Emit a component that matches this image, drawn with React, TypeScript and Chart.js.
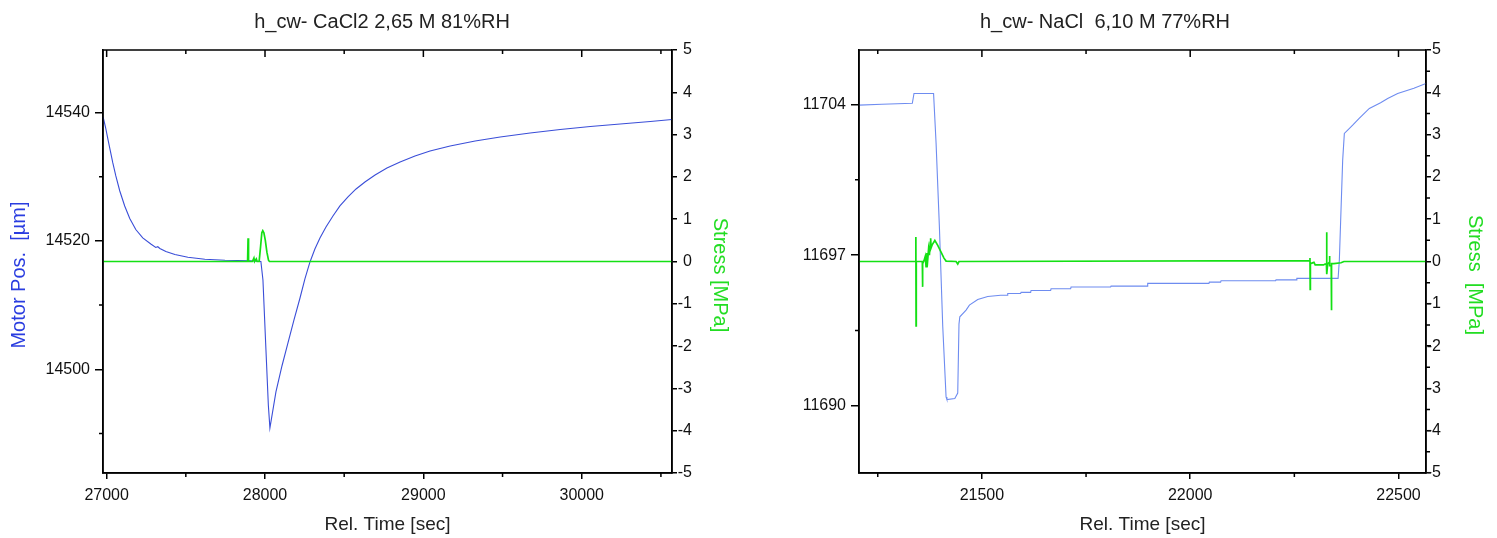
import React, { useEffect, useRef } from 'react';
import { Chart, registerables } from 'chart.js';

Chart.register(...registerables);

const FONT = '"Liberation Sans", Arial, Helvetica, sans-serif';
const GREEN = '#14e014';
const GREEN_LABEL = '#22dd22';
const BLUE_LABEL = '#2a3de0';

// ---------- Left chart: CaCl2 ----------
const leftTitle = 'h_cw- CaCl2 2,65 M 81%RH';
const leftMotorTime = [26978, 26994, 27007, 27020, 27039, 27058, 27083, 27114, 27146, 27184, 27228, 27279, 27310, 27323, 27336, 27374, 27431, 27513, 27620, 27747, 27905, 27974, 27987, 28006, 28021, 28031, 28069, 28107, 28145, 28183, 28221, 28252, 28284, 28315, 28347, 28385, 28429, 28473, 28524, 28575, 28631, 28695, 28770, 28853, 28947, 29042, 29169, 29327, 29485, 29674, 29864, 30054, 30243, 30433, 30572];
const leftMotorPos = [14539.3, 14537.61, 14535.98, 14534.42, 14532.16, 14530.13, 14527.79, 14525.46, 14523.51, 14521.79, 14520.47, 14519.53, 14518.99, 14519.1, 14518.83, 14518.36, 14517.9, 14517.46, 14517.16, 14516.99, 14516.91, 14516.8, 14513.92, 14503.0, 14494.44, 14490.85, 14496.46, 14500.51, 14504.1, 14507.69, 14511.11, 14514.08, 14516.73, 14518.75, 14520.47, 14522.18, 14523.9, 14525.46, 14526.86, 14528.11, 14529.2, 14530.29, 14531.38, 14532.31, 14533.25, 14534.03, 14534.81, 14535.59, 14536.21, 14536.84, 14537.38, 14537.85, 14538.24, 14538.63, 14538.94];
const leftStressTime = [26977, 27880, 27890, 27893, 27896, 27920, 27930, 27934, 27945, 27950, 27963, 27972, 27980, 27986, 27993, 28002, 28012, 28022, 28028, 30570];
const leftStress = [0, 0, 0, 0.55, 0.0, 0.0, 0.08, 0.0, 0.06, 0.0, 0.0, 0.35, 0.68, 0.73, 0.68, 0.5, 0.22, 0.03, 0, 0];
const leftXTicks = [27000, 28000, 29000, 30000];
const leftXMinor = [27500, 28500, 29500, 30500];
const leftYTicks = [14500, 14520, 14540];
const leftYMinor = [14490, 14510, 14530];

// ---------- Right chart: NaCl ----------
const rightTitle = 'h_cw- NaCl  6,10 M 77%RH';
const rightMotorTime = [21205, 21260, 21333, 21337, 21384, 21390, 21398, 21406, 21414, 21416, 21435, 21442, 21445, 21447, 21462, 21470, 21490, 21514, 21545, 21561, 21562, 21593, 21594, 21617, 21618, 21665, 21666, 21713, 21714, 21809, 21810, 21897, 21898, 22045, 22046, 22073, 22074, 22205, 22206, 22255, 22256, 22355, 22358, 22362, 22366, 22370, 22378, 22390, 22405, 22430, 22457, 22474, 22498, 22537, 22566];
const rightMotorPos = [11703.96, 11704.0, 11704.05, 11704.5, 11704.5, 11702.2, 11698.3, 11693.7, 11690.42, 11690.3, 11690.35, 11690.6, 11693.8, 11694.14, 11694.45, 11694.68, 11694.94, 11695.08, 11695.14, 11695.14, 11695.22, 11695.22, 11695.27, 11695.27, 11695.36, 11695.36, 11695.44, 11695.44, 11695.52, 11695.52, 11695.56, 11695.56, 11695.69, 11695.69, 11695.75, 11695.75, 11695.81, 11695.81, 11695.85, 11695.85, 11695.92, 11695.92, 11696.77, 11699.09, 11701.41, 11702.65, 11702.8, 11703.03, 11703.34, 11703.81, 11704.07, 11704.27, 11704.5, 11704.74, 11704.97];
const rightStressTime = [21205, 21341, 21341.5, 21342, 21342.5, 21357, 21357.5, 21358, 21361, 21364, 21366, 21368, 21370, 21372, 21374, 21376, 21377, 21378, 21381, 21387, 21394, 21402, 21409, 21414, 21438, 21442, 21445, 22287, 22287.5, 22288, 22288.5, 22297, 22300, 22320, 22324, 22327, 22327.5, 22328, 22330, 22334, 22334.5, 22335, 22338.5, 22339, 22339.5, 22345, 22362, 22369, 22566];
const rightStress = [0, 0, 0.58, -1.52, 0, 0, -0.6, -0.05, 0.02, 0.12, -0.12, 0.2, 0.05, 0.3, 0.15, 0.45, 0.55, 0.32, 0.4, 0.5, 0.38, 0.22, 0.08, 0.01, 0.0, -0.06, 0.0, 0.02, 0.08, -0.66, -0.05, -0.02, -0.08, -0.08, -0.06, -0.08, 0.69, -0.3, -0.05, -0.02, 0.13, -0.1, -0.1, -1.15, -0.05, -0.05, -0.03, 0.0, 0];
const rightXTicks = [21500, 22000, 22500];
const rightXMinor = [21250, 21750, 22250];
const rightYTicks = [11690, 11697, 11704];
const rightYMinor = [11693.5, 11700.5];

const stressTicks = [-5, -4, -3, -2, -1, 0, 1, 2, 3, 4, 5];
const stressMinorRight = [-4.5, -3.5, -2.5, -1.5, -0.5, 0.5, 1.5, 2.5, 3.5, 4.5];

type Spec = {
  canvasW: number;
  title: string;
  titleX: number;
  motorT: number[];
  motorV: number[];
  motorColor: string;
  stressT: number[];
  stressV: number[];
  xMin: number; xMax: number; xTicks: number[]; xMinor: number[];
  yMin: number; yMax: number; yTicks: number[]; yMinor: number[];
  y1Minor: number[];
  yTitle: string | null; yTitleX: number;
  y1Title: string; y1TitleX: number;
  leftW: number; y1W: number; padRight: number;
};

function makeDecor(s: Spec) {
  return {
    id: 'decor',
    afterDraw(chart: any) {
      const { ctx } = chart;
      const a = chart.chartArea;
      const xs = chart.scales.x, ys = chart.scales.y, y1 = chart.scales.y1;
      ctx.save();
      ctx.strokeStyle = '#000';
      ctx.lineWidth = 1.5;
      ctx.beginPath();
      const seg = (x1: number, y1p: number, x2: number, y2: number) => { ctx.moveTo(x1, y1p); ctx.lineTo(x2, y2); };
      s.xTicks.forEach(v => { const p = xs.getPixelForValue(v); seg(p, a.top, p, a.top + 7); });
      s.xMinor.forEach(v => {
        const p = xs.getPixelForValue(v);
        seg(p, a.top, p, a.top + 4);
        seg(p, a.bottom, p, a.bottom + 4);
      });
      s.yMinor.forEach(v => { const p = ys.getPixelForValue(v); seg(a.left - 4, p, a.left, p); });
      s.y1Minor.forEach(v => { const p = y1.getPixelForValue(v); seg(a.right, p, a.right + 4, p); });
      ctx.stroke();
      ctx.strokeRect(a.left, a.top, a.right - a.left, a.bottom - a.top);

      ctx.textAlign = 'center';
      ctx.textBaseline = 'middle';
      ctx.font = `20px ${FONT}`;
      ctx.fillStyle = '#222';
      ctx.fillText(s.title, s.titleX, 22);
      if (s.yTitle) {
        ctx.save();
        ctx.translate(s.yTitleX, 275);
        ctx.rotate(-Math.PI / 2);
        ctx.fillStyle = BLUE_LABEL;
        ctx.fillText(s.yTitle, 0, 0);
        ctx.restore();
      }
      ctx.save();
      ctx.translate(s.y1TitleX, 275);
      ctx.rotate(Math.PI / 2);
      ctx.fillStyle = GREEN_LABEL;
      ctx.fillText(s.y1Title, 0, 0);
      ctx.restore();
      ctx.restore();
    },
  };
}

function makeConfig(s: Spec): any {
  const motor = s.motorT.map((t, i) => ({ x: t, y: s.motorV[i] }));
  const stress = s.stressT.map((t, i) => ({ x: t, y: s.stressV[i] }));
  const tickFont = { family: FONT, size: 16 };
  const grid = { display: true, drawOnChartArea: false, drawTicks: true, color: '#000', lineWidth: 1.5 };
  return {
    type: 'line',
    data: {
      datasets: [
        { data: stress, yAxisID: 'y1', borderColor: GREEN, borderWidth: 1.7, pointRadius: 0, tension: 0, fill: false },
        { data: motor, yAxisID: 'y', borderColor: s.motorColor, borderWidth: 1.1, pointRadius: 0, tension: 0, fill: false },
      ],
    },
    options: {
      responsive: false,
      animation: false,
      events: [],
      layout: { padding: { top: 50, left: 0, right: s.padRight, bottom: 0 } },
      plugins: { legend: { display: false }, tooltip: { enabled: false }, title: { display: false } },
      scales: {
        x: {
          type: 'linear',
          position: 'bottom',
          min: s.xMin,
          max: s.xMax,
          afterBuildTicks: (sc: any) => { sc.ticks = s.xTicks.map(v => ({ value: v })); },
          afterFit: (sc: any) => { sc.height = 65; },
          ticks: { font: tickFont, color: '#111', padding: 7, maxRotation: 0, autoSkip: false, callback: (v: any) => String(v) },
          grid: { ...grid, tickLength: 6 },
          border: { display: true, color: '#000', width: 1.5 },
          title: { display: true, text: 'Rel. Time [sec]', color: '#222', font: { family: FONT, size: 19 }, padding: { top: 0, bottom: 2 } },
        },
        y: {
          type: 'linear',
          position: 'left',
          min: s.yMin,
          max: s.yMax,
          afterBuildTicks: (sc: any) => { sc.ticks = s.yTicks.map(v => ({ value: v })); },
          afterFit: (sc: any) => { sc.width = s.leftW; },
          ticks: { font: tickFont, color: '#111', padding: 5, autoSkip: false, callback: (v: any) => String(v) },
          grid: { ...grid, tickLength: 8 },
          border: { display: true, color: '#000', width: 1.5 },
        },
        y1: {
          type: 'linear',
          position: 'right',
          min: -5,
          max: 5,
          afterBuildTicks: (sc: any) => { sc.ticks = stressTicks.map(v => ({ value: v })); },
          afterFit: (sc: any) => { sc.width = s.y1W; },
          ticks: { font: tickFont, color: '#111', padding: 2, crossAlign: 'far', autoSkip: false, callback: (v: any) => String(v) },
          grid: { ...grid, tickLength: 5 },
          border: { display: true, color: '#000', width: 1.5 },
        },
      },
    },
    plugins: [makeDecor(s)],
  };
}

const leftSpec: Spec = {
  canvasW: 748,
  title: leftTitle,
  titleX: 382,
  motorT: leftMotorTime,
  motorV: leftMotorPos,
  motorColor: '#3a4ed8',
  stressT: leftStressTime,
  stressV: leftStress,
  xMin: 26977, xMax: 30570, xTicks: leftXTicks, xMinor: leftXMinor,
  yMin: 14483.83, yMax: 14549.77, yTicks: leftYTicks, yMinor: leftYMinor,
  y1Minor: [],
  yTitle: 'Motor Pos.  [µm]', yTitleX: 19,
  y1Title: 'Stress [MPa]', y1TitleX: 720,
  leftW: 103, y1W: 20, padRight: 56,
};

const rightSpec: Spec = {
  canvasW: 749,
  title: rightTitle,
  titleX: 357,
  motorT: rightMotorTime,
  motorV: rightMotorPos,
  motorColor: '#6e8cf0',
  stressT: rightStressTime,
  stressV: rightStress,
  xMin: 21205, xMax: 22566, xTicks: rightXTicks, xMinor: rightXMinor,
  yMin: 11686.89, yMax: 11706.52, yTicks: rightYTicks, yMinor: rightYMinor,
  y1Minor: stressMinorRight,
  yTitle: null, yTitleX: 0,
  y1Title: 'Stress  [MPa]', y1TitleX: 727,
  leftW: 111, y1W: 15, padRight: 56,
};

function ChartCanvas({ spec }: { spec: Spec }) {
  const ref = useRef<HTMLCanvasElement | null>(null);
  useEffect(() => {
    if (!ref.current) return;
    const chart = new Chart(ref.current, makeConfig(spec));
    return () => chart.destroy();
  }, [spec]);
  return <canvas ref={ref} width={spec.canvasW} height={538} style={{ display: 'block', width: spec.canvasW, height: 538 }} />;
}

export default function App() {
  return (
    <div style={{ position: 'absolute', left: 0, top: 0, width: 1497, height: 538, background: '#fff', overflow: 'hidden' }}>
      <div style={{ position: 'absolute', left: 0, top: 0 }}>
        <ChartCanvas spec={leftSpec} />
      </div>
      <div style={{ position: 'absolute', left: 748, top: 0 }}>
        <ChartCanvas spec={rightSpec} />
      </div>
    </div>
  );
}
